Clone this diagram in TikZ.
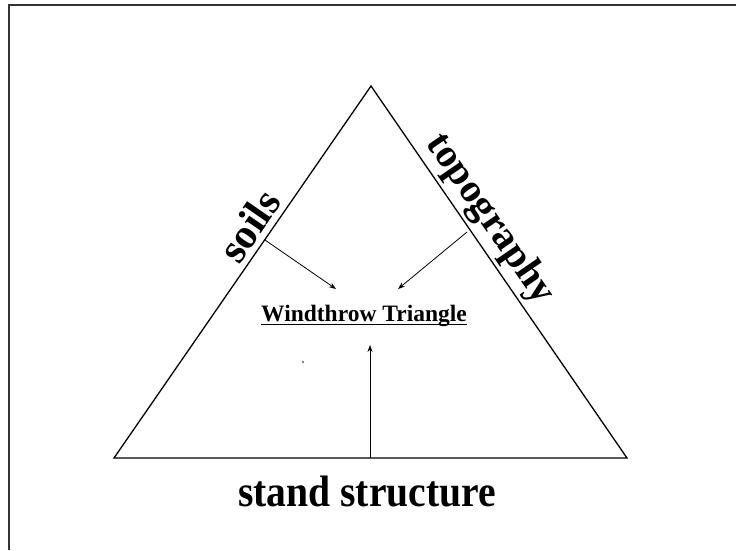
\documentclass[tikz,border=0pt]{standalone}
\usepackage{fontspec}
\setmainfont{Liberation Serif}
\usetikzlibrary{arrows.meta}
\tikzset{
  side/.style={line width=1.3pt, black},
  frame/.style={line width=1.3pt, black!80},
  pointer/.style={line width=0.8pt, -{Stealth[length=7pt,width=5pt]}},
  bigl/.style={inner sep=0pt, font=\fontsize{42}{46}\selectfont\bfseries, anchor=base},
}
\begin{document}
\begin{tikzpicture}[x=1pt,y=-1pt]
\useasboundingbox (0,0) rectangle (736,550);
\fill[white] (0,0) rectangle (736,550);
\draw[frame] (9,550) -- (9,5) -- (736,5);
% triangle
\coordinate (A) at (371,86);
\coordinate (B) at (114,458);
\coordinate (C) at (627,458);
\draw[side] (A) -- (B) -- (C) -- cycle;
% labels
\node[bigl, rotate=55.36] (soils) at (261,234) {soils};
\node[bigl, rotate=-55.46, font=\fontsize{40}{44}\selectfont\bfseries] (topo) at (482,225) {topography};
\node[bigl, font=\fontsize{44}{48}\selectfont\bfseries, xscale=0.9] (stand) at (367,506) {stand structure};
\node[inner sep=0pt, anchor=base, font=\fontsize{23.5}{26}\selectfont\bfseries] (wt) at (364,321.7) {Windthrow Triangle};
\draw[line width=1.2pt] ([yshift=-2.8pt]wt.base west) -- ([yshift=-2.8pt]wt.base east);
% arrows
\coordinate (s0) at (265,240);
\coordinate (s1) at (336,289);
\coordinate (t0) at (467,232);
\coordinate (t1) at (398,289);
\coordinate (b0) at (370,458);
\coordinate (b1) at (370,345);
\draw[pointer] (s0) -- (s1);
\draw[pointer] (t0) -- (t1);
\draw[pointer] (b0) -- (b1);
\fill (303,362) circle (0.8);
\end{tikzpicture}
\end{document}
